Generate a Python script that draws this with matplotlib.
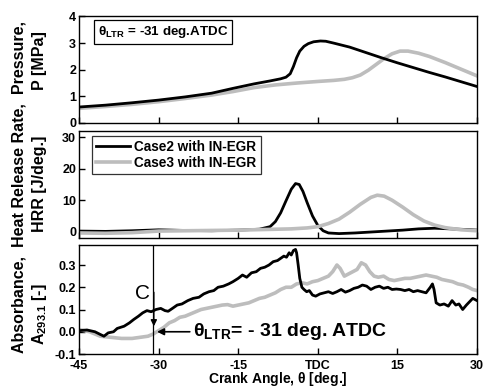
import numpy as np
import matplotlib.pyplot as plt

plt.rcParams['font.family'] = ['Liberation Sans', 'DejaVu Sans']
plt.rcParams['font.weight'] = 'bold'
plt.rcParams['mathtext.fontset'] = 'custom'
plt.rcParams['mathtext.rm'] = 'Liberation Sans:bold'
plt.rcParams['mathtext.bf'] = 'Liberation Sans:bold'
plt.rcParams['mathtext.it'] = 'Liberation Sans:bold'

# pressure [MPa]
p_ang2 = [-45, -40, -35, -30, -25, -20, -16, -12, -9, -7, -6, -5.2, -4.6, -4.0, -3.4, -2.6, -1.8, -0.8, 0.5, 1.5, 3, 6, 9, 12, 15, 18, 21, 24, 27, 30]
p_case2 = [0.6, 0.67, 0.76, 0.86, 0.98, 1.12, 1.3, 1.47, 1.58, 1.66, 1.72, 1.85, 2.12, 2.45, 2.7, 2.88, 2.98, 3.05, 3.08, 3.07, 3.0, 2.85, 2.65, 2.45, 2.26, 2.08, 1.9, 1.73, 1.55, 1.37]
p_ang3 = [-45, -40, -35, -30, -25, -20, -16, -12, -8, -4, 0, 3, 5, 6.5, 8, 9.5, 11, 12.5, 14, 15.5, 17, 19, 21, 24, 27, 30]
p_case3 = [0.55, 0.62, 0.7, 0.8, 0.92, 1.05, 1.18, 1.33, 1.43, 1.5, 1.56, 1.6, 1.64, 1.7, 1.8, 1.98, 2.2, 2.42, 2.6, 2.7, 2.7, 2.62, 2.5, 2.27, 2.02, 1.77]

# heat release rate [J/deg.]
h_ang2 = [-45, -40, -35, -30, -25, -20, -15, -11, -9, -8, -7, -6, -5, -4.2, -3.5, -2.8, -2, -1, 0, 1, 2, 4, 7, 10, 13, 16, 19, 22, 25, 28, 30]
h_case2 = [0.2, 0.1, 0.3, 0.6, 0.4, 0.3, 0.5, 0.8, 1.6, 3.2, 6.0, 9.8, 13.5, 15.3, 15.0, 12.8, 9.2, 5.0, 2.0, 0.3, -0.4, -0.6, -0.4, -0.1, 0.2, 0.5, 0.9, 1.1, 0.9, 0.7, 0.5]
h_ang3 = [-45, -40, -35, -30, -25, -20, -15, -10, -5, -2, 0, 2, 4, 6, 8, 10, 11.2, 12.5, 14, 16, 18, 20, 22, 24, 27, 30]
h_case3 = [-0.4, -0.5, -0.3, 0.2, 0.3, 0.4, 0.5, 0.7, 0.9, 1.2, 1.6, 2.6, 4.0, 6.2, 8.7, 10.9, 11.6, 11.3, 10.0, 7.8, 5.4, 3.4, 2.1, 1.3, 0.6, 0.3]

# absorbance A293.1 [-], case2 as (angle, value) readings
a_case2_pts = [(-45, 0.005), (-43.5, 0.008), (-42, 0.0), (-41, -0.012), (-40.3, -0.02), (-39.5, -0.005),
               (-38.5, 0.0), (-37.8, 0.015), (-36.5, 0.025), (-35.5, 0.04), (-34.7, 0.055), (-33.8, 0.07),
               (-33, 0.085), (-32.2, 0.095), (-31.4, 0.09), (-30.5, 0.1), (-29.6, 0.105), (-28.8, 0.095),
               (-28.2, 0.092), (-27.4, 0.105), (-26.5, 0.12), (-25.6, 0.125), (-24.5, 0.14), (-23.5, 0.15),
               (-22.4, 0.155), (-21.5, 0.17), (-20.5, 0.18), (-19.6, 0.185), (-18.8, 0.2), (-17.8, 0.205),
               (-16.8, 0.215), (-16, 0.225), (-15, 0.24), (-14.2, 0.255), (-13.4, 0.245), (-12.5, 0.265),
               (-11.6, 0.27), (-10.8, 0.285), (-10, 0.29), (-9.2, 0.3), (-8.4, 0.315), (-7.6, 0.32),
               (-7, 0.33), (-6.4, 0.34), (-5.9, 0.335), (-5.4, 0.355), (-5, 0.345), (-4.6, 0.365),
               (-4.2, 0.37), (-4.0, 0.355), (-3.7, 0.3), (-3.4, 0.24), (-3.0, 0.2), (-2.6, 0.19),
               (-2.1, 0.18), (-1.6, 0.185), (-1.0, 0.165), (-0.4, 0.16), (0.4, 0.17), (1.2, 0.175),
               (2, 0.18), (2.8, 0.172), (3.6, 0.18), (4.4, 0.19), (5.2, 0.178), (6, 0.185),
               (6.8, 0.195), (7.6, 0.2), (8.4, 0.21), (9.2, 0.205), (10, 0.19), (10.8, 0.2),
               (11.6, 0.205), (12.4, 0.195), (13.2, 0.2), (14, 0.19), (14.8, 0.192), (15.6, 0.19),
               (16.4, 0.185), (17.2, 0.19), (18, 0.18), (18.8, 0.185), (19.6, 0.18), (20.4, 0.175),
               (21.2, 0.2), (21.6, 0.215), (21.9, 0.19), (22.3, 0.13), (23, 0.12), (23.8, 0.125),
               (24.6, 0.115), (25.3, 0.14), (26, 0.12), (26.6, 0.125), (27.3, 0.1), (28, 0.12),
               (28.6, 0.135), (29.2, 0.15), (30, 0.14)]
a_ang2 = [p[0] for p in a_case2_pts]
a_case2 = [p[1] for p in a_case2_pts]
a_ang3 = [-45, -43, -41, -39, -37, -35, -33.5, -32, -31, -30, -29, -28, -27, -26, -25, -24, -23, -22, -21, -20, -19, -18, -17, -16, -15, -14, -13, -12, -11, -10, -9, -8, -7, -6, -5, -4, -3, -2, -1, 0, 1, 2, 2.8, 3.6, 4.2, 5, 5.8, 6.6, 7.4, 8.2, 9, 9.8, 10.6, 11.4, 12.4, 13.4, 14.4, 15.4, 16.4, 17.4, 18.4, 19.4, 20.4, 21.4, 22.4, 23.4, 24.4, 25.4, 26.4, 27.4, 28.4, 29.2, 30]
a_case3 = [0.01, 0.0, -0.02, -0.025, -0.03, -0.03, -0.025, -0.02, -0.01, 0.005, 0.02, 0.04, 0.05, 0.065, 0.07, 0.08, 0.09, 0.1, 0.105, 0.11, 0.115, 0.12, 0.122, 0.115, 0.12, 0.125, 0.13, 0.14, 0.15, 0.155, 0.165, 0.175, 0.19, 0.2, 0.2, 0.215, 0.22, 0.215, 0.225, 0.23, 0.24, 0.25, 0.27, 0.3, 0.285, 0.25, 0.26, 0.27, 0.28, 0.31, 0.3, 0.27, 0.25, 0.245, 0.25, 0.235, 0.23, 0.235, 0.24, 0.24, 0.245, 0.25, 0.255, 0.25, 0.245, 0.235, 0.23, 0.225, 0.215, 0.21, 0.2, 0.19, 0.185]

x_ticks = [-45, -30, -15, 0, 15, 30]
x_labels = ['-45', '-30', '-15', 'TDC', '15', '30']
theta_ltr = -31

black = 'black'
grey = '#bdbdbd'

fig = plt.figure(figsize=(4.83, 3.88), dpi=100)
left, width = 0.1636, 0.824
ax1 = fig.add_axes([left, 0.683, width, 0.2745])
ax2 = fig.add_axes([left, 0.3866, width, 0.2758])
ax3 = fig.add_axes([left, 0.0876, width, 0.281])

ax1.plot(p_ang3, p_case3, color=grey, lw=2.6)
ax1.plot(p_ang2, p_case2, color=black, lw=2.0)
ax1.set_ylim(0, 4)
ax1.set_yticks([0, 1, 2, 3, 4])
ax1.text(0.048, 0.85, r'$\theta_{LTR}$ = -31 deg.ATDC', transform=ax1.transAxes,
         fontsize=9.6, fontweight='bold', va='center', ha='left',
         bbox=dict(boxstyle='square,pad=0.3', fc='white', ec='black', lw=0.9))

ax2.plot(h_ang2, h_case2, color=black, lw=2.0, label='Case2 with IN-EGR')
ax2.plot(h_ang3, h_case3, color=grey, lw=2.6, label='Case3 with IN-EGR')
ax2.set_ylim(-2, 32)
ax2.set_yticks([0, 10, 20, 30])
leg = ax2.legend(loc='upper left', bbox_to_anchor=(0.033, 0.955), fontsize=9.8, frameon=True,
                 fancybox=False, handlelength=2.5, borderpad=0.3, labelspacing=0.15,
                 borderaxespad=0.0, handletextpad=0.3)
leg.get_frame().set_edgecolor('black')
leg.get_frame().set_linewidth(0.9)
for t in leg.get_texts():
    t.set_fontweight('bold')

ax3.plot(a_ang3, a_case3, color=grey, lw=2.6)
ax3.plot(a_ang2, a_case2, color=black, lw=2.0)
ax3.set_ylim(-0.1, 0.39)
ax3.set_yticks([-0.1, 0.0, 0.1, 0.2, 0.3])
ax3.set_yticklabels(['-0.1', '0.0', '0.1', '0.2', '0.3'])
ax3.axvline(theta_ltr, color='black', lw=0.9)
ax3.annotate('', xy=(-30.9, 0.012), xytext=(-30.9, 0.19),
             arrowprops=dict(arrowstyle='-|>', color='black', lw=1.0, mutation_scale=9))
ax3.text(-33.1, 0.17, 'C', fontsize=15, fontweight='normal', ha='center', va='center')
ax3.annotate(r'$\theta_{LTR}$= - 31 deg. ATDC', xy=(-30.3, 0.0), xytext=(-23.6, 0.0),
             fontsize=14, fontweight='bold', va='center', ha='left',
             arrowprops=dict(arrowstyle='-|>', color='black', lw=1.2, mutation_scale=10,
                             shrinkA=0, shrinkB=0))
ax3.set_xlabel(r'Crank Angle, $\theta$ [deg.]', fontsize=10, fontweight='bold', va='center')
ax3.xaxis.set_label_coords(0.5, -0.23)

for ax in [ax1, ax2, ax3]:
    ax.set_xlim(-45, 30)
    ax.set_xticks(x_ticks)
    ax.tick_params(direction='in', length=4, width=1.0, labelsize=9, top=False, right=False, pad=2)
    for s in ax.spines.values():
        s.set_linewidth(1.0)
    for lab in ax.get_yticklabels():
        lab.set_fontweight('bold')
ax3.tick_params(axis='x', pad=4)
ax1.set_xticklabels([])
ax2.set_xticklabels([])
ax3.set_xticklabels(x_labels)
for lab in ax3.get_xticklabels():
    lab.set_fontweight('bold')

fig.text(0.039, 0.519, 'Absorbance,  Heat Release Rate,  Pressure,', rotation=90,
         fontsize=11.5, fontweight='bold', ha='center', va='center')
fig.text(0.082, 0.845, 'P [MPa]', rotation=90, fontsize=11.5, fontweight='bold', ha='center', va='center')
fig.text(0.082, 0.526, 'HRR [J/deg.]', rotation=90, fontsize=11.5, fontweight='bold', ha='center', va='center')
fig.text(0.082, 0.19, r'A$_{293.1}$ [-]', rotation=90, fontsize=11.5, fontweight='bold', ha='center', va='center')

fig.savefig('out.png', dpi=100)
